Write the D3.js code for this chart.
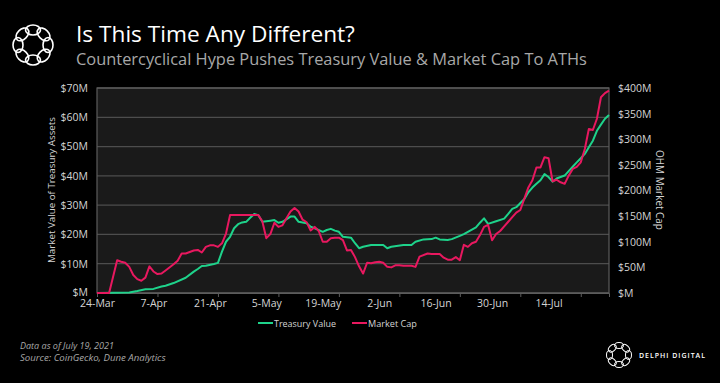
<!DOCTYPE html>
<html><head><meta charset="utf-8">
<script src="https://cdn.jsdelivr.net/npm/d3@7"></script>
<style>body{margin:0;background:#000;overflow:hidden} svg{display:block}</style>
</head><body><svg id="c" width="720" height="383"></svg>
<script>
// ---------- data ----------
const titleText = "Is This Time Any Different?";
const subtitleText = "Countercyclical Hype Pushes Treasury Value & Market Cap To ATHs";
const tickLabels = ["24-Mar","7-Apr","21-Apr","5-May","19-May","2-Jun","16-Jun","30-Jun","14-Jul"];
const categoryCount = 128;      // daily categories from 24-Mar
const labelInterval = 14;
const tickInterval = 15;
const leftTicks = [0,10,20,30,40,50,60,70];          // $M, treasury
const rightTicks = [0,50,100,150,200,250,300,350,400]; // $M, market cap
const seriesNames = ["Treasury Value","Market Cap"];

// Treasury value ($M), by day index
const tvDay = [0,8,10,12,14,16,17,19,22,24,25,26,27,29,30,31,32,33,34,35,36,37,38,39,40,41,43,44,45,46,48,49,50,52,53,54,56,57,58,59,60,61,63,64,65,66,68,71,72,73,76,78,79,81,83,84,85,87,88,90,91,92,94,95,96,97,99,101,102,103,104,106,107,108,109,110,111,112,113,114,116,117,118,119,120,121,122,123,124,125,126,127];
const tvValue = [0,0.2,0.7,1.3,1.4,2.2,2.5,3.4,5.2,7.3,8.2,9.2,9.3,9.9,10.3,14.1,17.5,19.2,22.1,23.5,24.1,24.3,25.7,27.0,26.6,24.3,24.7,24.9,24.0,24.3,26.1,26.1,24.3,23.8,22.6,22.1,20.9,21.5,21.9,21.3,20.9,19.2,18.9,17.0,15.3,15.8,16.4,16.4,15.3,15.8,16.4,16.4,17.5,18.3,18.4,18.9,18.3,18.1,18.4,19.5,20.1,20.9,22.4,24.0,25.5,23.6,24.5,25.4,27.0,28.7,29.3,32.1,34.4,36.0,37.3,38.5,40.6,39.6,38.0,39.1,40.1,41.6,43.1,44.6,46.0,47.5,49.8,52.0,55.4,57.5,59.5,60.8];

// OHM market cap ($M), by day index
const mcDay = [0,3,5,6,7,8,9,10,11,12,13,14,15,16,17,19,20,21,22,24,25,26,27,28,29,30,31,32,33,40,41,42,43,44,45,46,47,48,49,50,51,52,53,54,55,56,57,58,59,60,61,62,63,64,65,66,67,68,69,70,71,72,73,74,75,76,78,79,80,82,83,85,86,87,88,89,90,91,92,93,94,95,96,97,98,99,100,101,102,103,104,105,106,107,108,109,110,111,112,113,114,115,116,117,118,119,120,121,122,123,124,125,126,127];
const mcValue = [0,0,64,61,59,51,35,27,24,30,52,42,37,38,44,56,63,77,77,83,84,79,90,93,93,90,97,116,152,152,140,107,115,137,129,132,146,159,166,159,143,138,122,129,121,100,100,107,108,108,103,83,84,70,52,38,59,58,60,61,59,51,50,54,54,53,53,51,71,77,76,76,69,65,65,70,64,94,90,97,100,113,129,133,103,115,121,130,139,148,157,162,184,206,220,245,245,265,263,218,221,216,213,229,242,246,255,281,320,318,340,382,390,395];

// ---------- layout ----------
const W = 720, H = 383;
const P = {left: 97, right: 609, top: 88, bottom: 293};
const C = {bg: "#000", plotBg: "#1a1a1a", grid: "#4d4d4d", border: "#5c5c5c",
  text: "#d4d4d4", sub: "#a8a8a8", green: "#1ed38b", pink: "#e8185f"};
const FONT = "'Open Sans', 'Noto Sans', sans-serif";

const svg = d3.select("#c").style("background", C.bg).style("font-family", FONT);
svg.append("rect").attr("width", W).attr("height", H).attr("fill", C.bg);

function fitWidth(sel, target) {
  const w = sel.node().getComputedTextLength();
  const fs = parseFloat(sel.attr("font-size"));
  if (w > 0) sel.attr("font-size", (fs * target / w).toFixed(2));
  return sel;
}

// logo helper
function logo(g, cx, cy, r, rx, ry, sw) {
  const n = 8;
  for (let k = 0; k < n; k++) {
    const a = k * 360 / n;
    g.append("ellipse").attr("cx", 0).attr("cy", -r).attr("rx", rx).attr("ry", ry)
      .attr("transform", `translate(${cx},${cy}) rotate(${a})`)
      .attr("fill", "none").attr("stroke", "#fff").attr("stroke-width", sw);
  }
}
logo(svg.append("g"), 33, 45, 15, 7.5, 5, 1.6);

// titles
fitWidth(svg.append("text").attr("x", 76).attr("y", 42).attr("fill", "#fff")
  .attr("font-size", 20).text(titleText), 279);
fitWidth(svg.append("text").attr("x", 76).attr("y", 65).attr("fill", C.sub)
  .attr("font-size", 15).text(subtitleText), 511);

// scales
const x = d3.scaleLinear().domain([0, categoryCount - 1]).range([P.left, P.right]);
const yL = d3.scaleLinear().domain([0, 70]).range([P.bottom, P.top]);
const yR = d3.scaleLinear().domain([0, 400]).range([P.bottom, P.top]);

// plot background
svg.append("rect").attr("x", P.left).attr("y", P.top)
  .attr("width", P.right - P.left).attr("height", P.bottom - P.top).attr("fill", C.plotBg);

// grid
svg.append("g").selectAll("line").data(leftTicks).join("line")
  .attr("x1", P.left).attr("x2", P.right)
  .attr("y1", d => yL(d)).attr("y2", d => yL(d))
  .attr("stroke", C.grid).attr("stroke-width", 1.3);

svg.append("rect").attr("x", P.left).attr("y", P.top)
  .attr("width", P.right - P.left).attr("height", P.bottom - P.top)
  .attr("fill", "none").attr("stroke", C.border).attr("stroke-width", 1.2);

const money = d => d === 0 ? "$M" : `$${d}M`;

// left axis
const gL = svg.append("g").attr("transform", `translate(${P.left},0)`)
  .call(d3.axisLeft(yL).tickValues(leftTicks).tickFormat(money).tickSize(0).tickPadding(9));
gL.select(".domain").remove();
gL.selectAll("text").attr("fill", C.text).attr("font-size", 10.5).attr("font-family", FONT);
gL.selectAll(".tick").filter(d => d === 0).select("text").attr("dy", "0.2em");

// right axis
const gR = svg.append("g").attr("transform", `translate(${P.right},0)`)
  .call(d3.axisRight(yR).tickValues(rightTicks).tickFormat(money).tickSize(0).tickPadding(9));
gR.select(".domain").remove();
gR.selectAll("text").attr("fill", C.text).attr("font-size", 10.5).attr("font-family", FONT);

// x ticks (marks) and labels
const gXt = svg.append("g").attr("transform", `translate(0,${P.bottom})`)
  .call(d3.axisBottom(x).tickValues(d3.range(0, categoryCount, tickInterval)).tickSize(4).tickFormat(""));
gXt.select(".domain").attr("stroke", C.border);
gXt.selectAll("line").attr("stroke", C.border);

const labelIdx = tickLabels.map((_, k) => k * labelInterval);
const gX = svg.append("g").attr("transform", `translate(0,${P.bottom})`)
  .call(d3.axisBottom(x).tickValues(labelIdx).tickFormat((d, k) => tickLabels[k]).tickSize(0).tickPadding(7));
gX.select(".domain").remove();
gX.selectAll("text").attr("fill", C.text).attr("font-size", 10.5).attr("font-family", FONT);

// axis titles
fitWidth(svg.append("text").attr("transform", `translate(55,190) rotate(-90)`)
  .attr("text-anchor", "middle").attr("fill", C.text).attr("font-size", 10)
  .text("Market Value of Treasury Assets"), 146);
fitWidth(svg.append("text").attr("transform", `translate(656,190) rotate(90)`)
  .attr("text-anchor", "middle").attr("fill", C.text).attr("font-size", 10)
  .text("OHM Market Cap"), 80);

// lines
const tvData = tvDay.map((d, k) => [d, tvValue[k]]);
const mcData = mcDay.map((d, k) => [d, mcValue[k]]);
const lineL = d3.line().x(d => x(d[0])).y(d => yL(d[1]));
const lineR = d3.line().x(d => x(d[0])).y(d => yR(d[1]));
svg.append("path").datum(tvData).attr("d", lineL).attr("fill", "none")
  .attr("stroke", C.green).attr("stroke-width", 2).attr("stroke-linejoin", "round");
svg.append("path").datum(mcData).attr("d", lineR).attr("fill", "none")
  .attr("stroke", C.pink).attr("stroke-width", 2).attr("stroke-linejoin", "round");

// legend
const legend = [{name: seriesNames[0], color: C.green, x: 258, w: 62},
                {name: seriesNames[1], color: C.pink, x: 352, w: 49}];
legend.forEach(l => {
  svg.append("line").attr("x1", l.x).attr("x2", l.x + 15).attr("y1", 323).attr("y2", 323)
    .attr("stroke", l.color).attr("stroke-width", 2);
  fitWidth(svg.append("text").attr("x", l.x + 16).attr("y", 327).attr("fill", C.text)
    .attr("font-size", 11).text(l.name), l.w);
});

// footer
fitWidth(svg.append("text").attr("x", 20).attr("y", 349).attr("fill", C.sub)
  .attr("font-size", 9).attr("font-style", "italic").text("Data as of July 19, 2021"), 94);
fitWidth(svg.append("text").attr("x", 20).attr("y", 360.5).attr("fill", C.sub)
  .attr("font-size", 9).attr("font-style", "italic").text("Source: CoinGecko,  Dune Analytics"), 146);

// bottom-right brand
logo(svg.append("g"), 619, 355, 9.5, 4.5, 3, 1);
fitWidth(svg.append("text").attr("x", 639).attr("y", 358).attr("fill", "#fff")
  .attr("font-size", 7.5).attr("font-weight", 600).attr("letter-spacing", 1)
  .text("DELPHI DIGITAL"), 66);
</script></body></html>
